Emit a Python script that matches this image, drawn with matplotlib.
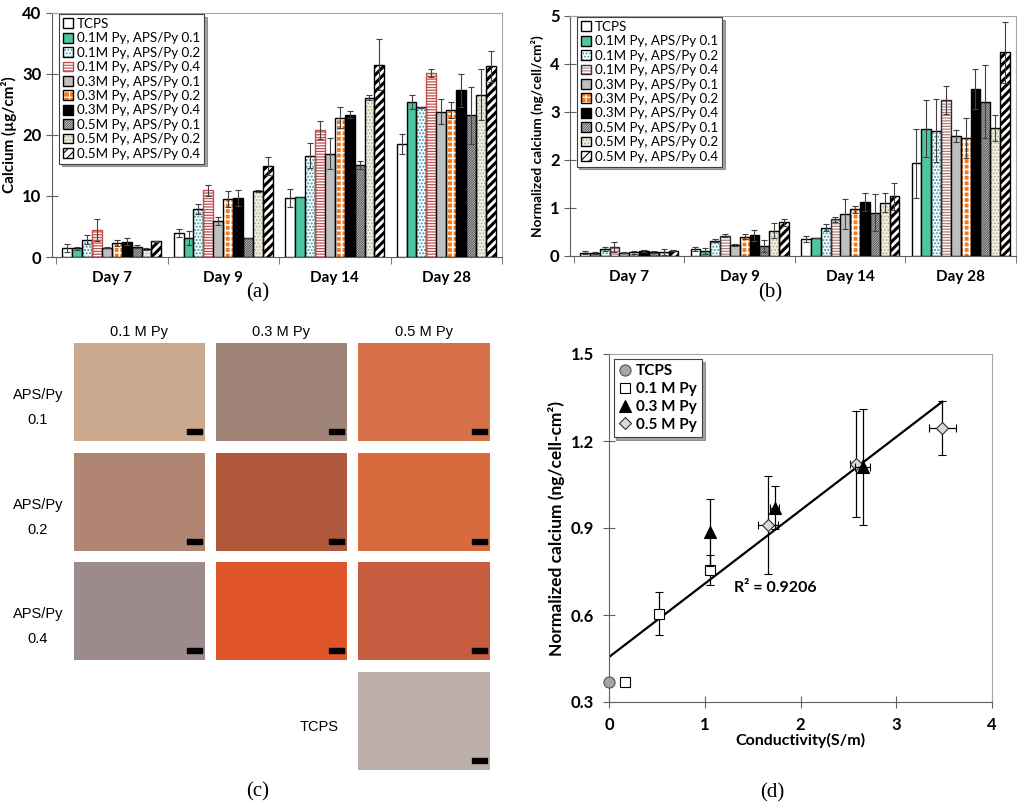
import matplotlib.pyplot as plt
from matplotlib.patches import Rectangle
from matplotlib.lines import Line2D
import numpy as np

plt.rcParams['font.family'] = ['Lato', 'DejaVu Sans']
plt.rcParams['hatch.linewidth'] = 0.8

# data
days = ['Day 7', 'Day 9', 'Day 14', 'Day 28']
groups = ['TCPS',
          '0.1M Py, APS/Py 0.1', '0.1M Py, APS/Py 0.2', '0.1M Py, APS/Py 0.4',
          '0.3M Py, APS/Py 0.1', '0.3M Py, APS/Py 0.2', '0.3M Py, APS/Py 0.4',
          '0.5M Py, APS/Py 0.1', '0.5M Py, APS/Py 0.2', '0.5M Py, APS/Py 0.4']

# calcium (ug/cm2), rows = groups, cols = days
calcium = [
    [1.5, 3.9, 9.7, 18.5],
    [1.4, 3.1, 9.8, 25.4],
    [2.85, 7.8, 16.6, 24.5],
    [4.5, 10.9, 20.8, 30.1],
    [1.5, 5.9, 16.9, 23.8],
    [2.3, 9.5, 22.8, 24.0],
    [2.5, 9.7, 23.3, 27.3],
    [1.7, 3.1, 15.1, 23.2],
    [1.3, 10.8, 26.1, 26.6],
    [2.6, 14.9, 31.5, 31.2],
]
calcium_err = [
    [0.6, 0.7, 1.5, 1.7],
    [0.2, 1.2, 0.0, 1.1],
    [0.8, 0.8, 2.0, 0.1],
    [1.8, 0.85, 1.45, 0.7],
    [0.1, 0.6, 2.55, 2.0],
    [0.5, 1.3, 1.75, 1.3],
    [0.6, 1.3, 0.6, 2.7],
    [0.3, 0.0, 0.65, 4.7],
    [0.1, 0.1, 0.35, 4.1],
    [0.1, 1.55, 4.2, 2.6],
]

# normalized calcium (ng/cell/cm2)
norm_ca = [
    [0.07, 0.15, 0.36, 1.93],
    [0.055, 0.11, 0.375, 2.65],
    [0.14, 0.32, 0.59, 2.61],
    [0.19, 0.42, 0.76, 3.24],
    [0.07, 0.23, 0.88, 2.50],
    [0.08, 0.40, 0.97, 2.46],
    [0.10, 0.43, 1.12, 3.47],
    [0.08, 0.21, 0.90, 3.21],
    [0.085, 0.53, 1.11, 2.66],
    [0.11, 0.70, 1.24, 4.24],
]
norm_ca_err = [
    [0.03, 0.04, 0.06, 0.72],
    [0.02, 0.06, 0.0, 0.60],
    [0.04, 0.03, 0.08, 0.66],
    [0.10, 0.03, 0.06, 0.29],
    [0.01, 0.02, 0.31, 0.13],
    [0.03, 0.05, 0.08, 0.42],
    [0.02, 0.11, 0.19, 0.42],
    [0.02, 0.13, 0.38, 0.76],
    [0.07, 0.15, 0.20, 0.27],
    [0.01, 0.07, 0.28, 0.63],
]

# panel d: conductivity vs normalized calcium
tcps_x, tcps_y = [0.0], [0.37]
py01_x = [0.17, 0.52, 1.05]
py01_y = [0.37, 0.605, 0.755]
py01_yerr = [0.0, 0.075, 0.053]
py01_xerr = [0.0, 0.0, 0.0]
py03_x = [1.06, 1.73, 2.65]
py03_y = [0.885, 0.97, 1.11]
py03_yerr = [0.115, 0.075, 0.2]
py03_xerr = [0.0, 0.05, 0.08]
py05_x = [1.66, 2.58, 3.48]
py05_y = [0.91, 1.12, 1.245]
py05_yerr = [0.168, 0.183, 0.093]
py05_xerr = [0.1, 0.06, 0.14]
fit_intercept, fit_slope, fit_xmax = 0.455, 0.253, 3.48
r2_text = 'R² = 0.9206'

# panel c
conc_cols = ['0.1 M Py', '0.3 M Py', '0.5 M Py']
ratio_rows = ['0.1', '0.2', '0.4']
tile_colors = [
    ['#cba98f', '#a08478', '#d8714a'],
    ['#b08672', '#b0583c', '#d86a3e'],
    ['#9c8a8c', '#e0542a', '#c85c40'],
]
tcps_tile = '#bcaea8'

# styles for bars: (face, hatch, hatch color, edge, hatch width)
styles_a = [
    ('white', None, None, 'black', 0),
    ('#4cc6a2', None, None, 'black', 0),
    ('white', '.....', '#2f9bab', 'black', 1.0),
    ('white', '------', '#c0504d', '#c0504d', 0.9),
    ('#bfbfbf', None, None, 'black', 0),
    ('#f47a1e', '+++', 'white', 'black', 1.2),
    ('black', None, None, 'black', 0),
    ('white', '/' * 14, '#5a5a5a', 'black', 0.9),
    ('#f0efe2', '.....', '#b6ad8c', 'black', 0.8),
    ('white', '////', 'black', 'black', 2.2),
]
styles_b = list(styles_a)
styles_b[3] = ('white', '------', '#b07c78', '#303030', 0.9)

fig = plt.figure(figsize=(10.24, 8.1), dpi=100)


def px_axes(l, t, r, b):
    return fig.add_axes([l / 1024, 1 - b / 810, (r - l) / 1024, (b - t) / 810])


def bar_panel(ax, vals, errs, styles, ymax, ylabel, ylabel_size):
    w = 0.089
    xs = np.arange(len(days))
    handles = []
    for i, (name, v, e, st) in enumerate(zip(groups, vals, errs, styles)):
        face, hatch, hcol, edge, hw = st
        pos = xs + (i - 4.5) * w
        if hatch:
            with plt.rc_context({'hatch.linewidth': hw}):
                ax.bar(pos, v, w, color=face, edgecolor=hcol, hatch=hatch, linewidth=0, zorder=2)
                hp = Rectangle((0, 0), 1, 1, facecolor=face, edgecolor=hcol, hatch=hatch, linewidth=0)
            ax.bar(pos, v, w, facecolor='none', edgecolor=edge, linewidth=1.0, zorder=3)
            he = Rectangle((0, 0), 1, 1, facecolor='none', edgecolor=edge, linewidth=1.0)
            handles.append((hp, he))
        else:
            ax.bar(pos, v, w, color=face, edgecolor=edge, linewidth=1.0, zorder=3)
            handles.append(Rectangle((0, 0), 1, 1, facecolor=face, edgecolor=edge, linewidth=1.0))
        ax.errorbar(pos, v, yerr=e, fmt='none', ecolor='#404040', elinewidth=0.8,
                    capsize=2.5, capthick=0.8, zorder=4)
    ax.set_xlim(-0.536, 3.5)
    ax.set_ylim(0, ymax)
    ax.set_xticks(xs)
    ax.set_xticklabels(days, fontsize=11, fontweight='bold')
    ax.set_xticks(np.arange(-0.5, 3.6, 1), minor=True)
    ax.tick_params(axis='x', which='major', length=0, pad=10)
    ax.tick_params(axis='x', which='minor', length=5, direction='out', color='#606060')
    ax.tick_params(axis='y', direction='inout', length=8, color='#606060', labelsize=12)
    for lab in ax.get_yticklabels():
        lab.set_fontweight('bold')
    ax.set_ylabel(ylabel, fontsize=ylabel_size, fontweight='bold', labelpad=4)
    for s in ['top', 'right']:
        ax.spines[s].set_color('#a6a6a6')
    for s in ['left', 'bottom']:
        ax.spines[s].set_color('#606060')
    leg = ax.legend(handles, groups, loc='upper left', bbox_to_anchor=(0.015, 0.995),
                    borderaxespad=0, fontsize=9.6, handlelength=0.75, handleheight=0.75,
                    handletextpad=0.3, labelspacing=0.18, borderpad=0.3, fancybox=False,
                    shadow=True, framealpha=1)
    leg.get_frame().set_edgecolor('#404040')
    leg.get_frame().set_linewidth(0.8)


ax_a = px_axes(52, 12.7, 502, 257)
bar_panel(ax_a, calcium, calcium_err, styles_a, 40, 'Calcium (µg/cm²)', 11)
ax_a.set_yticks([0, 10, 20, 30, 40])

ax_b = px_axes(570, 15.7, 1016, 256)
bar_panel(ax_b, norm_ca, norm_ca_err, styles_b, 5, 'Normalized calcium (ng/cell/cm²)', 9.8)
ax_b.set_yticks([0, 1, 2, 3, 4, 5])

fig.text(258 / 1024, 1 - 293 / 810, '(a)', ha='center', va='center',
         family=['Liberation Serif'], fontsize=15)
fig.text(770 / 1024, 1 - 293 / 810, '(b)', ha='center', va='center',
         family=['Liberation Serif'], fontsize=15)

# panel c: micrograph tiles as flat colour blocks
col_lr = [(74, 205), (216, 347), (358, 490)]
row_tb = [(343, 441), (453, 551), (562, 660)]
for j, name in enumerate(conc_cols):
    cx = (col_lr[j][0] + col_lr[j][1]) / 2
    fig.text(cx / 1024, 1 - 332 / 810, name, ha='center', va='center',
             family=['Liberation Sans'], fontsize=10.5)
for i, r in enumerate(ratio_rows):
    t, b = row_tb[i]
    fig.text(38 / 1024, 1 - (t + 52) / 810, 'APS/Py', ha='center', va='center',
             family=['Liberation Sans'], fontsize=10.5)
    fig.text(38 / 1024, 1 - (t + 77) / 810, r, ha='center', va='center',
             family=['Liberation Sans'], fontsize=10.5)


def tile(l, t, r, b, color):
    axt = px_axes(l, t, r, b)
    axt.set_facecolor(color)
    axt.set_xlim(0, 1)
    axt.set_ylim(0, 1)
    axt.add_patch(Rectangle((0.86, 0.07), 0.12, 0.05, color='black'))
    axt.set_xticks([])
    axt.set_yticks([])
    for s in axt.spines.values():
        s.set_visible(False)


for i in range(3):
    for j in range(3):
        tile(col_lr[j][0], row_tb[i][0], col_lr[j][1], row_tb[i][1], tile_colors[i][j])
tile(358, 672, 490, 770, tcps_tile)
fig.text(319 / 1024, 1 - 727 / 810, 'TCPS', ha='center', va='center',
         family=['Liberation Sans'], fontsize=10.5)
fig.text(258 / 1024, 1 - 792 / 810, '(c)', ha='center', va='center',
         family=['Liberation Serif'], fontsize=15)

# panel d
ax_d = px_axes(609, 354, 992, 702)
ekw = dict(ecolor='black', elinewidth=0.9, capsize=3, capthick=0.9, linestyle='none')
m01 = dict(marker='s', ms=7, mfc='white', mec='black', mew=0.8)
m03 = dict(marker='^', ms=8, mfc='black', mec='black', mew=0.8)
m05 = dict(marker='D', ms=6, mfc='#d9d9d9', mec='#303030', mew=0.8)
mtc = dict(marker='o', ms=8, mfc='#a6a6a6', mec='#505050', mew=0.8)
fx = np.array([0, fit_xmax])
ax_d.plot(fx, fit_intercept + fit_slope * fx, color='black', lw=1.6, zorder=2)
ax_d.errorbar(py01_x, py01_y, yerr=py01_yerr, xerr=py01_xerr, zorder=3, **m01, **ekw)
ax_d.errorbar(py05_x, py05_y, yerr=py05_yerr, xerr=py05_xerr, zorder=3, **m05, **ekw)
ax_d.errorbar(py03_x, py03_y, yerr=py03_yerr, xerr=py03_xerr, zorder=4, **m03, **ekw)
ax_d.plot(tcps_x, tcps_y, linestyle='none', zorder=4, clip_on=False, **mtc)
ax_d.set_xlim(0, 4)
ax_d.set_ylim(0.3, 1.5)
ax_d.set_xticks([0, 1, 2, 3, 4])
ax_d.set_yticks([0.3, 0.6, 0.9, 1.2, 1.5])
ax_d.set_yticklabels(['0.3', '0.6', '0.9', '1.2', '1.5'])
ax_d.tick_params(direction='inout', length=8, color='#606060', labelsize=12, pad=7)
for lab in ax_d.get_xticklabels() + ax_d.get_yticklabels():
    lab.set_fontweight('bold')
ax_d.set_xlabel('Conductivity(S/m)', fontsize=11.5, fontweight='bold', labelpad=0)
ax_d.set_ylabel('Normalized calcium (ng/cell-cm²)', fontsize=12.5, fontweight='bold', labelpad=4)
for s in ['top', 'right']:
    ax_d.spines[s].set_color('#a6a6a6')
for s in ['left', 'bottom']:
    ax_d.spines[s].set_color('#606060')
ax_d.text(1.31, 0.693, r2_text, ha='left', va='center', fontsize=11.5, fontweight='bold')
proxies = [Line2D([], [], linestyle='none', **m) for m in (mtc, m01, m03, m05)]
leg = ax_d.legend(proxies, ['TCPS', '0.1 M Py', '0.3 M Py', '0.5 M Py'], loc='upper left',
                  bbox_to_anchor=(0.012, 0.986), borderaxespad=0,
                  prop={'size': 11, 'weight': 'bold'},
                  handlelength=0.8, handletextpad=0.3, labelspacing=0.25, borderpad=0.35,
                  fancybox=False, shadow=True, framealpha=1, numpoints=1)
leg.get_frame().set_edgecolor('#404040')
leg.get_frame().set_linewidth(0.8)
fig.text(772 / 1024, 1 - 793 / 810, '(d)', ha='center', va='center',
         family=['Liberation Serif'], fontsize=15)

fig.savefig('out.png', dpi=100)
